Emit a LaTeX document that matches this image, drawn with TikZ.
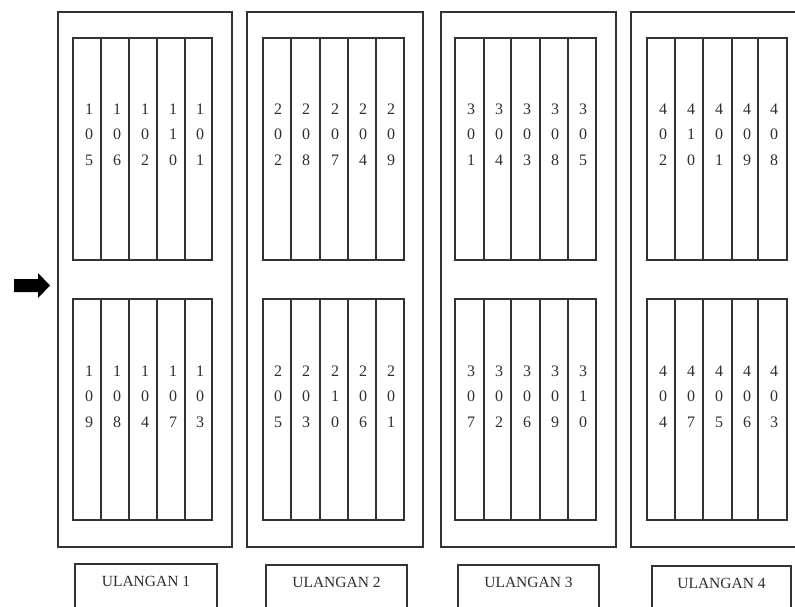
\documentclass[tikz,border=0pt]{standalone}
\usepackage{fontspec}
\setmainfont{Liberation Serif}
\definecolor{ln}{HTML}{333333}
\definecolor{tx}{HTML}{2E2E2E}
\tikzset{
  outerbox/.style={draw=ln, line width=1.6pt},
  gridbox/.style={draw=ln, line width=1.4pt},
  gridline/.style={draw=ln, line width=1.3pt},
  dig/.style={inner sep=0pt, text=tx, font=\fontsize{16}{16}\selectfont},
  lab/.style={inner sep=0pt, text=tx, font=\fontsize{15.5}{16}\selectfont},
}
\newcommand\numcol[4]{\foreach \dd [count=\ii] in {#4}{\node[dig] (#1-\ii) at (#2,{#3+(\ii-1)*25.5}) {\dd};}}
\begin{document}
\begin{tikzpicture}[x=1pt,y=-1pt]
\useasboundingbox (0,0) rectangle (795,607);
\clip (0,0) rectangle (795,607);
\fill[white] (0,0) rectangle (795,607);

% outer blocks
\draw[outerbox] (58,12) rectangle (232,547);
\draw[outerbox] (247,12) rectangle (423,547);
\draw[outerbox] (441,12) rectangle (616,547);
\draw[outerbox] (631,12) rectangle (812,547);

% grids
\foreach \xa/\xb/\xc/\xd/\xe/\xf in {73/101/129/157/185/212, 263/291/320/348/376/404, 455/484/511/540/568/596, 647/675/703/732/758/787}{
  \foreach \ya/\yb in {38/260, 299/520}{
    \draw[gridbox] (\xa,\ya) rectangle (\xf,\yb);
    \foreach \xx in {\xb,\xc,\xd,\xe}{\draw[gridline] (\xx,\ya) -- (\xx,\yb);}
  }
}

% block 1 numbers
\numcol{t11}{89}{109}{1,0,5}
\numcol{t12}{117}{109}{1,0,6}
\numcol{t13}{145}{109}{1,0,2}
\numcol{t14}{173}{109}{1,1,0}
\numcol{t15}{200}{109}{1,0,1}
\numcol{b11}{89}{371}{1,0,9}
\numcol{b12}{117}{371}{1,0,8}
\numcol{b13}{145}{371}{1,0,4}
\numcol{b14}{173}{371}{1,0,7}
\numcol{b15}{200}{371}{1,0,3}
% block 2
\numcol{t21}{278}{109}{2,0,2}
\numcol{t22}{306}{109}{2,0,8}
\numcol{t23}{335}{109}{2,0,7}
\numcol{t24}{363}{109}{2,0,4}
\numcol{t25}{391}{109}{2,0,9}
\numcol{b21}{278}{371}{2,0,5}
\numcol{b22}{306}{371}{2,0,3}
\numcol{b23}{335}{371}{2,1,0}
\numcol{b24}{363}{371}{2,0,6}
\numcol{b25}{391}{371}{2,0,1}
% block 3
\numcol{t31}{471}{109}{3,0,1}
\numcol{t32}{499}{109}{3,0,4}
\numcol{t33}{527}{109}{3,0,3}
\numcol{t34}{555}{109}{3,0,8}
\numcol{t35}{583}{109}{3,0,5}
\numcol{b31}{471}{371}{3,0,7}
\numcol{b32}{499}{371}{3,0,2}
\numcol{b33}{527}{371}{3,0,6}
\numcol{b34}{555}{371}{3,0,9}
\numcol{b35}{583}{371}{3,1,0}
% block 4
\numcol{t41}{663}{109}{4,0,2}
\numcol{t42}{691}{109}{4,1,0}
\numcol{t43}{719}{109}{4,0,1}
\numcol{t44}{747}{109}{4,0,9}
\numcol{t45}{774}{109}{4,0,8}
\numcol{b41}{663}{371}{4,0,4}
\numcol{b42}{691}{371}{4,0,7}
\numcol{b43}{719}{371}{4,0,5}
\numcol{b44}{747}{371}{4,0,6}
\numcol{b45}{774}{371}{4,0,3}

% label boxes
\draw[outerbox] (75,564) rectangle (217,625);
\draw[outerbox] (266,565) rectangle (407,625);
\draw[outerbox] (458,565) rectangle (599,625);
\draw[outerbox] (652,566) rectangle (791,625);
\node[lab] (l1) at (146,581) {ULANGAN 1};
\node[lab] (l2) at (336.5,582) {ULANGAN 2};
\node[lab] (l3) at (528.5,582) {ULANGAN 3};
\node[lab] (l4) at (721.5,583) {ULANGAN 4};

% arrow
\fill[black] (14,279) -- (38,279) -- (38,273) -- (50,285.5) -- (38,298) -- (38,292) -- (14,292) -- cycle;
\end{tikzpicture}
\end{document}
